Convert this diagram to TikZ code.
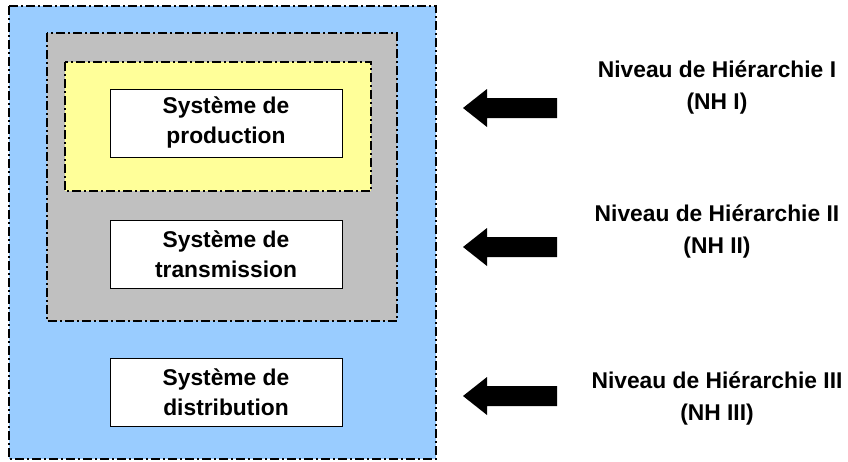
\documentclass[tikz,border=0pt]{standalone}
\usepackage{fontspec}
\setmainfont{Liberation Sans}
\definecolor{outerblue}{HTML}{99CCFF}
\definecolor{midgray}{HTML}{C0C0C0}
\definecolor{inneryellow}{HTML}{FFFF99}
\begin{document}
\begin{tikzpicture}[x=1pt,y=-1pt,
  dashdot/.style={draw=black, line width=1.4pt, dash pattern=on 9pt off 3pt on 2pt off 3pt},
  sysbox/.style={draw=black, line width=1pt, fill=white, align=center, inner sep=0pt,
    minimum width=232pt, minimum height=68pt, font=\bfseries\fontsize{22.8}{30}\selectfont},
  lvl/.style={align=center, inner sep=0pt, font=\bfseries\fontsize{22.8}{32}\selectfont},
  bigarrow/.style={fill=black, draw=none}]
\useasboundingbox (0,0) rectangle (848,461);
\path[fill=outerblue, dashdot] (9,6) rectangle (436,459);
\path[fill=midgray, dashdot] (47,33) rectangle (397,321);
\path[fill=inneryellow, dashdot] (65,62) rectangle (371,191);
\node[sysbox] (prod) at (226,123) {Système de\\production};
\node[sysbox] (trans) at (226,254.5) {Système de\\transmission};
\node[sysbox] (dist) at (226,392.5) {Système de\\distribution};
\foreach \yy in {108,247,396}{
  \path[bigarrow] (463,\yy) -- (487,\yy-19) -- (487,\yy-10) -- (557,\yy-10)
     -- (557,\yy+10) -- (487,\yy+10) -- (487,\yy+19) -- cycle;
}
\node[lvl] (l1) at (717,88) {Niveau de Hiérarchie I\\(NH I)};
\node[lvl] (l2) at (717,231) {Niveau de Hiérarchie II\\(NH II)};
\node[lvl] (l3) at (717,398) {Niveau de Hiérarchie III\\(NH III)};
\end{tikzpicture}
\end{document}
